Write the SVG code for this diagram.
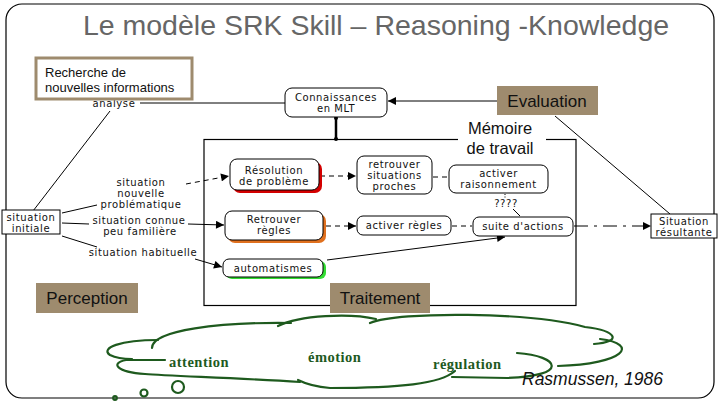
<svg xmlns="http://www.w3.org/2000/svg" width="720" height="405" viewBox="0 0 720 405">
<style>
.frame{fill:none;stroke:#000;stroke-width:1.2}
.node{fill:#fff;stroke:#000;stroke-width:1}
.nt{font-family:"DejaVu Sans",Verdana,sans-serif;font-size:10px;letter-spacing:0.6px;fill:#111;text-anchor:middle}
.lbl{font-family:"DejaVu Sans",Verdana,sans-serif;font-size:10px;letter-spacing:0.6px;fill:#111;text-anchor:middle}
.tan{fill:#9e8b6e}
.big{font-family:"Liberation Sans",Arial,sans-serif;font-size:17px;fill:#111;text-anchor:middle}
.ln{fill:none;stroke:#000;stroke-width:1}
.dash{stroke-dasharray:5,4}
.dashdot{stroke-dasharray:14,6,3,6}
.cloud{fill:none;stroke:#1e5a1e;stroke-width:2.2;stroke-linecap:round}
.ct{font-family:"Liberation Serif","Times New Roman",serif;font-weight:bold;font-size:14.5px;letter-spacing:0.5px;fill:#1e5a1e}
</style>
<defs>
<marker id="ah" viewBox="0 0 10 10" refX="10" refY="5" markerWidth="10" markerHeight="8" markerUnits="userSpaceOnUse" orient="auto">
<path d="M0,0 L10,5 L0,10 z" fill="#000"/>
</marker>
</defs>
<rect width="720" height="405" fill="#fff"/>
<rect class="frame" x="6" y="4" width="708" height="394" rx="16" ry="16"/>
<text x="376" y="35" font-family="'Liberation Sans',Arial,sans-serif" font-size="28.5" fill="#666" text-anchor="middle">Le modèle SRK Skill – Reasoning -Knowledge</text>

<g id="connectors">
<line class="ln" x1="33" y1="211" x2="110" y2="111"/>
<line class="ln" x1="140" y1="103" x2="285" y2="103"/>
<line class="ln" x1="497" y1="101" x2="388" y2="101" marker-end="url(#ah)"/>
<line x1="336" y1="118" x2="336" y2="139" stroke="#000" stroke-width="2.5"/>
<circle cx="336" cy="118" r="2" fill="#000"/>
<circle cx="336" cy="139" r="2" fill="#000"/>
<line class="ln" x1="62" y1="213" x2="97" y2="205"/>
<line class="ln" x1="62" y1="223" x2="89" y2="224"/>
<line class="ln" x1="62" y1="236" x2="97" y2="247"/>
<line class="ln dash" x1="186" y1="184" x2="229" y2="176" marker-end="url(#ah)"/>
<line class="ln" x1="188" y1="224" x2="224" y2="225" marker-end="url(#ah)"/>
<line class="ln" x1="195" y1="259" x2="222" y2="267" marker-end="url(#ah)"/>
<line class="ln dash" x1="320" y1="176" x2="356" y2="176" marker-end="url(#ah)"/>
<line class="ln dash" x1="433" y1="177" x2="449" y2="177"/>
<line class="ln dash" x1="326" y1="226" x2="356" y2="226" marker-end="url(#ah)"/>
<line class="ln dash" x1="452" y1="226" x2="472" y2="226"/>
<line class="ln" x1="327" y1="260" x2="505" y2="237" marker-end="url(#ah)"/>
<line class="ln" x1="505" y1="194" x2="505" y2="198" stroke-dasharray="1,1.5"/>
<line class="ln" x1="513" y1="209" x2="520" y2="216"/>
<line class="ln dashdot" x1="574" y1="226" x2="651" y2="226" marker-end="url(#ah)"/>
<line class="ln" x1="555" y1="116" x2="670" y2="214"/>
</g>

<g id="analyse"><text class="lbl" x="114" y="107">analyse</text></g>

<g id="recherche">
<rect x="36" y="58" width="156" height="41" fill="#fff" stroke="#9e8b6e" stroke-width="3"/>
<text x="45" y="77" font-family="'Liberation Sans',Arial,sans-serif" font-size="13" fill="#111">Recherche de</text>
<text x="45" y="92" font-family="'Liberation Sans',Arial,sans-serif" font-size="13" fill="#111">nouvelles informations</text>
</g>

<g id="connaissances">
<rect class="node" x="285" y="88" width="102" height="29" rx="7"/>
<text class="nt" x="336" y="100.5">Connaissances</text>
<text class="nt" x="336" y="112">en MLT</text>
</g>

<g id="evaluation">
<rect class="tan" x="497" y="86" width="101" height="29"/>
<text class="big" x="547" y="107">Evaluation</text>
</g>

<g id="memoire">
<rect x="204" y="139.5" width="372" height="166" fill="none" stroke="#000" stroke-width="1.2"/>
<rect x="458" y="118" width="88" height="42" fill="#fff"/>
<text x="500" y="134" font-family="'Liberation Sans',Arial,sans-serif" font-size="16.5" fill="#111" text-anchor="middle">Mémoire</text>
<text x="500" y="154" font-family="'Liberation Sans',Arial,sans-serif" font-size="16.5" fill="#111" text-anchor="middle">de travail</text>
</g>

<g id="resolution">
<rect x="233" y="162" width="89" height="31" rx="7" fill="#d40000"/>
<rect class="node" x="230" y="159" width="89" height="31" rx="7"/>
<text class="nt" x="274" y="173.5">Résolution</text>
<text class="nt" x="274" y="184.5">de problème</text>
</g>

<g id="retrouver-situations">
<rect class="node" x="357" y="156" width="75" height="38" rx="7"/>
<text class="nt" x="394.5" y="167.5">retrouver</text>
<text class="nt" x="394.5" y="178.5">situations</text>
<text class="nt" x="394.5" y="189.5">proches</text>
</g>

<g id="activer-raisonnement">
<rect class="node" x="449" y="165" width="99" height="28" rx="7"/>
<text class="nt" x="498.5" y="176.5">activer</text>
<text class="nt" x="498.5" y="187.5">raisonnement</text>
</g>

<g id="qqq"><text class="lbl" x="506" y="207">????</text></g>

<g id="retrouver-regles">
<rect x="228" y="214" width="98" height="29" rx="7" fill="#e0701e"/>
<rect class="node" x="225" y="211" width="98" height="29" rx="7"/>
<text class="nt" x="274" y="222.5">Retrouver</text>
<text class="nt" x="274" y="233.5">règles</text>
</g>

<g id="activer-regles">
<rect class="node" x="357" y="216" width="94" height="19" rx="6"/>
<text class="nt" x="404" y="229">activer règles</text>
</g>

<g id="suite-actions">
<rect class="node" x="473" y="217" width="100" height="19" rx="6"/>
<text class="nt" x="523" y="230">suite d'actions</text>
</g>

<g id="automatismes">
<rect x="226" y="261" width="100" height="18" rx="6" fill="#33dd33"/>
<rect class="node" x="223" y="259" width="100" height="18" rx="6"/>
<text class="nt" x="273" y="271.5">automatismes</text>
</g>

<g id="situation-initiale">
<rect class="node" x="2" y="210" width="58" height="24"/>
<text class="nt" x="31" y="221">situation</text>
<text class="nt" x="31" y="232">initiale</text>
</g>

<g id="situation-resultante">
<rect class="node" x="651" y="214" width="66" height="24"/>
<text class="nt" x="684" y="224.5">Situation</text>
<text class="nt" x="684" y="235.5">résultante</text>
</g>

<g id="labels">
<text class="lbl" x="141" y="185.5">situation</text>
<text class="lbl" x="141" y="196.5">nouvelle</text>
<text class="lbl" x="141" y="207.5">problématique</text>
<text class="lbl" x="139" y="223.5">situation connue</text>
<text class="lbl" x="140" y="234.5">peu familière</text>
<text class="lbl" x="143" y="256">situation habituelle</text>
</g>

<g id="perception">
<rect class="tan" x="36" y="283" width="102" height="30"/>
<text class="big" x="87" y="304">Perception</text>
</g>

<g id="traitement">
<rect class="tan" x="330" y="283" width="100" height="30"/>
<text class="big" x="380" y="304">Traitement</text>
</g>

<g id="cloud">
<path class="cloud" d="M158,340 C120,340 100,348 110,355 C116,358 124,359 132,359"/>
<path class="cloud" d="M165,360 L126,360 C110,363 116,372 145,374 C170,376 240,378 300,382"/>
<path class="cloud" d="M152,348 C152,330 220,322 291,323"/>
<path class="cloud" d="M278,326 C300,315 350,313 376,319"/>
<path class="cloud" d="M370,323 C400,311 530,312 585,327 C618,331 622,342 594,344"/>
<path class="cloud" d="M600,339 C640,344 625,364 558,366"/>
<path class="cloud" d="M517,353 C560,356 570,376 507,378 L452,377"/>
<path class="cloud" d="M455,371 C440,384 400,388 330,388 C318,387 308,385 298,380"/>
<circle class="cloud" cx="178" cy="387" r="6"/>
<circle class="cloud" cx="144" cy="393" r="3.5"/>
<circle class="cloud" cx="115" cy="398" r="1.8"/>
<text class="ct" x="169" y="367">attention</text>
<text class="ct" x="308" y="362">émotion</text>
<text class="ct" x="433" y="369">régulation</text>
</g>

<g id="credit">
<text x="522" y="385" font-family="'Liberation Sans',Arial,sans-serif" font-size="17.5" font-style="italic" fill="#111">Rasmussen, 1986</text>
</g>
</svg>
